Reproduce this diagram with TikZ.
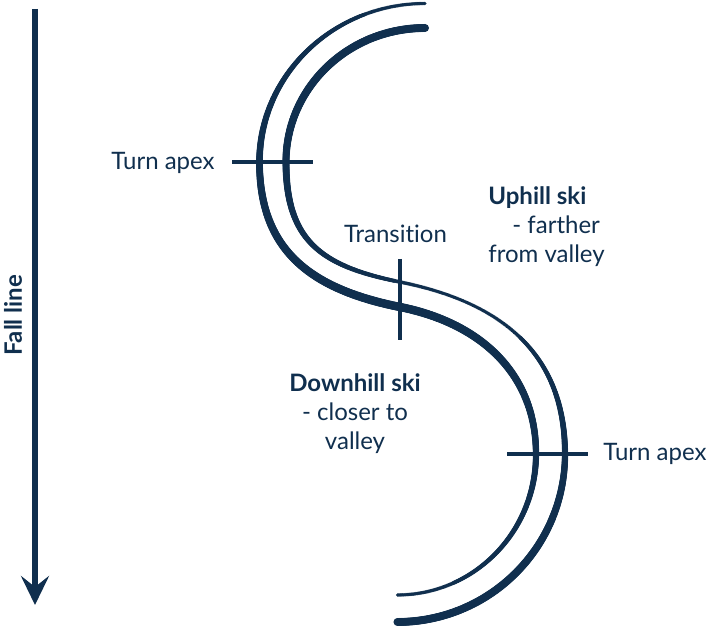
\documentclass[tikz,border=0pt]{standalone}
\usepackage{fontspec}
\setmainfont{Lato}[Ligatures=NoCommon]
\usepackage{tikz}
\usetikzlibrary{arrows.meta,decorations.markings}
\definecolor{navy}{HTML}{102F4E}

\begin{document}
\begin{tikzpicture}[
    x=0.5pt, y=-0.5pt,
    every node/.style={text=navy, inner sep=0pt, font=\fontsize{12}{14.5}\selectfont},
    tick/.style={draw=navy, line width=2pt},
    fall/.style={draw=navy, line width=2.7pt, -{Stealth[length=14.5pt, width=14pt, inset=5.5pt]}},
    ski/.style={decorate, decoration={markings,
        mark=between positions 0 and 1 step 0.001 with {
            \pgfmathsetmacro\skipos{(\pgfkeysvalueof{/pgf/decoration/mark info/sequence number}-1)*0.001}
            \pgfmathsetmacro\skirad{#1}
            \fill[navy] (0,0) circle[radius=\skirad pt];}}}
]
\useasboundingbox (0,0) rectangle (709,626);

% uphill and downhill skis, width swaps at the transition
\path[ski={0.875+1.25*sin(180*\skipos)^1.5}] (425,3.5) .. controls (333.6,3.5) and (259.5,74.8) .. (259.5,162)
    .. controls (259.5,250) and (310,289) .. (400,307)
    .. controls (480,323) and (536,373) .. (536,454)
    .. controls (536,532) and (474,595) .. (397,595);
\path[ski={2-1.125*sin(180*\skipos)^4}] (425,28) .. controls (348,28) and (286,88) .. (286,162)
    .. controls (286,240) and (320,266) .. (400,282)
    .. controls (490,300) and (565,345) .. (565,454)
    .. controls (565,547) and (490,622) .. (397,622);

\draw[tick] (232,162) -- (313,162);
\draw[tick] (400,259) -- (400,340);
\draw[tick] (507,454) -- (588,454);

\node[anchor=base east] (apexL) at (215,170) {Turn apex};
\node[anchor=base west] (apexR) at (603,461) {Turn apex};
\node[anchor=base] (trans) at (395.5,243) {Transition};
\node[anchor=base west, align=left] (uphill) at (488,263) {\textbf{Uphill ski}\\\hspace*{12pt}- farther\\from valley};
\node[anchor=base, align=center] (downhill) at (355,450) {\textbf{Downhill ski}\\- closer to\\valley};

\coordinate (falltop) at (35,9);
\coordinate (falltip) at (35,605);
\draw[fall] (falltop) -- (falltip);
\node[rotate=90, anchor=base, font=\fontsize{12}{14.5}\selectfont\bfseries] (fallline) at (22,315) {Fall line};
\end{tikzpicture}
\end{document}
